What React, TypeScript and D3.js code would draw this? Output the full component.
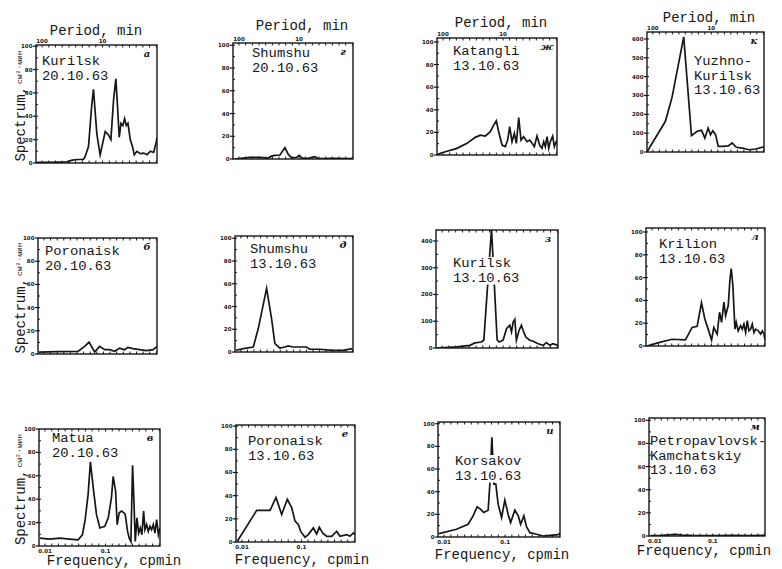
import React from "react";
import * as d3 from "d3";

type Pt = [number, number];

// ---------- axes ----------
const freqDomain: [number, number] = [0.001, 0.181];
const freqMinor = d3.range(0.01, 0.1805, 0.01);
const freqLabelValues = [0.01, 0.1];
const freqLabels = ["0.01", "0.1"];
const periodLabels = ["100", "10"];
const yTicks100 = [0, 20, 40, 60, 80, 100];
const yTicks400 = [0, 100, 200, 300, 400];
const yTicks600 = [0, 100, 200, 300, 400, 500, 600];

// ---------- data: [frequency cpmin, spectrum] ----------
const kurilsk201063: Pt[] = [
  [0.002, 0.5], [0.02, 0.5], [0.0467, 1], [0.055, 2.5], [0.063, 3], [0.0716, 3], [0.0741, 5.6], [0.0791, 14],
  [0.084, 50], [0.0865, 63], [0.0915, 25], [0.0964, 7], [0.104, 27], [0.1088, 24], [0.1124, 20], [0.1164, 54],
  [0.1198, 72], [0.1223, 48], [0.1248, 22], [0.1274, 34], [0.1302, 32], [0.1328, 38], [0.1353, 32], [0.1378, 34],
  [0.1412, 20], [0.1446, 14], [0.1472, 7], [0.1511, 10], [0.1562, 8], [0.1612, 8.5], [0.1661, 7], [0.1711, 10],
  [0.176, 9], [0.1799, 18], [0.181, 22],
];
const shumshu201063: Pt[] = [
  [0.0035, 0], [0.0161, 0.8], [0.0262, 1.5], [0.0411, 1.5], [0.0537, 0.8], [0.0588, 2.5], [0.0638, 3.2],
  [0.0714, 3.5], [0.0789, 10], [0.084, 4], [0.089, 1], [0.0966, 1.5], [0.1005, 3.2], [0.1041, 1], [0.1117, 0.3],
  [0.1241, 2], [0.1292, 0.3], [0.15, 0.5], [0.181, 0.3],
];
const katangli131063: Pt[] = [
  [0.001, 0], [0.006, 1.5], [0.0134, 2.9], [0.031, 5.9], [0.046, 10.3], [0.0584, 15.6], [0.066, 17.6],
  [0.0735, 16.8], [0.081, 20.6], [0.086, 26.5], [0.09, 30.3], [0.0935, 20.6], [0.0986, 8.8], [0.1034, 7.4],
  [0.107, 13.2], [0.11, 25], [0.1135, 11.8], [0.117, 19.1], [0.12, 10.3], [0.1236, 33.2], [0.127, 13.2],
  [0.131, 16.2], [0.136, 11.8], [0.14, 13.2], [0.1436, 10.3], [0.147, 7.4], [0.151, 16.8], [0.155, 8.8],
  [0.1585, 5.9], [0.161, 11.8], [0.1635, 7.4], [0.166, 16.2], [0.1686, 5.9], [0.171, 11.8], [0.1745, 16.8],
  [0.177, 7.4], [0.1799, 11.8], [0.181, 10.3],
];
const yuzhno131063: Pt[] = [
  [0.001, 0], [0.0293, 163], [0.0395, 290], [0.0575, 611], [0.0694, 87], [0.0782, 110], [0.0849, 115],
  [0.09, 74], [0.0951, 127], [0.0987, 92], [0.1023, 113], [0.1065, 92], [0.1106, 30], [0.1167, 30],
  [0.126, 32], [0.132, 48], [0.1383, 25], [0.1475, 21], [0.1578, 12], [0.1682, 16], [0.181, 27],
];
const poronaisk201063: Pt[] = [
  [0.0025, 1.7], [0.03, 2], [0.0615, 2.3], [0.0716, 6.6], [0.0782, 10.3], [0.0867, 1.7], [0.0943, 6.6],
  [0.1018, 3.7], [0.1094, 3.7], [0.117, 2.3], [0.1245, 5.1], [0.132, 3.7], [0.137, 5.7], [0.1446, 4.6],
  [0.1548, 3.7], [0.1648, 2.9], [0.175, 3.7], [0.181, 6.6],
];
const shumshu131063: Pt[] = [
  [0.0025, 1.5], [0.0137, 2.9], [0.0289, 4.4], [0.0365, 20.6], [0.0492, 56], [0.0568, 29.4], [0.0618, 7.4],
  [0.0694, 3.5], [0.0771, 4.4], [0.0821, 5.3], [0.0897, 4.4], [0.0998, 4.4], [0.11, 4.4], [0.115, 2.4],
  [0.13, 2.4], [0.1506, 1.5], [0.1657, 1.5], [0.18, 2.9],
];
const kurilsk131063: Pt[] = [
  [0.002, 0], [0.0314, 4], [0.051, 10], [0.0584, 19], [0.0681, 22.5], [0.0716, 30], [0.0829, 445],
  [0.0912, 30], [0.0942, 22.5], [0.1, 29], [0.105, 72], [0.1099, 85], [0.1124, 60], [0.1148, 97],
  [0.1173, 107], [0.1196, 29], [0.1236, 66], [0.127, 85], [0.1295, 66], [0.1335, 41], [0.1392, 29],
  [0.1443, 25], [0.1517, 16], [0.1589, 10], [0.164, 20], [0.1688, 10], [0.1736, 16], [0.181, 10],
];
const krilion131063: Pt[] = [
  [0.0025, 0], [0.0202, 3], [0.0404, 5.9], [0.0606, 5.3], [0.0708, 16.3], [0.0784, 17.2], [0.0849, 37.9],
  [0.09, 23.7], [0.095, 14.8], [0.1002, 5.3], [0.1036, 16.3], [0.1061, 13.3], [0.1087, 10.4], [0.1122, 29.6],
  [0.1153, 20.7], [0.1188, 38.5], [0.1214, 26.6], [0.1254, 35.5], [0.1279, 57.7], [0.1299, 68], [0.1324, 53.3],
  [0.1355, 14.8], [0.1375, 20.7], [0.1405, 13.3], [0.1441, 17.8], [0.1466, 14.8], [0.1491, 19.2], [0.1517, 11.8],
  [0.1542, 22.2], [0.1567, 13.3], [0.1593, 14.8], [0.1618, 19.2], [0.1643, 11.8], [0.1668, 14.8], [0.1709, 13.3],
  [0.1744, 10.4], [0.177, 13.3], [0.1795, 10.4], [0.181, 5.3],
];
const matua201063: Pt[] = [
  [0.0021, 6.7], [0.0168, 5.8], [0.0318, 6.7], [0.0467, 5.8], [0.0591, 5.2], [0.0656, 9.6], [0.0697, 22.6],
  [0.0741, 44.3], [0.0775, 71.9], [0.0816, 50.1], [0.0865, 27], [0.0915, 15.4], [0.0989, 16.8], [0.104, 24.1],
  [0.1088, 41.4], [0.1113, 59.4], [0.1149, 47.2], [0.1173, 18.3], [0.1203, 28.4], [0.1238, 29.9], [0.1274, 28.4],
  [0.1292, 27], [0.1328, 12.5], [0.1352, 6.7], [0.1377, 3.8], [0.1402, 69], [0.1422, 38.6], [0.1442, 3.8],
  [0.1467, 24.1], [0.1492, 11], [0.1517, 15.4], [0.1541, 9.6], [0.1566, 29.9], [0.1586, 13.9], [0.1611, 18.3],
  [0.1636, 12.5], [0.1661, 16.8], [0.1685, 13.9], [0.171, 18.3], [0.1735, 11], [0.176, 22.6], [0.1786, 9.6],
  [0.181, 15.4],
];
const poronaisk131063: Pt[] = [
  [0.003, 0.6], [0.0323, 27.3], [0.0525, 27.3], [0.0615, 38.4], [0.0701, 23.8], [0.0786, 36.9], [0.0852, 29.7],
  [0.0903, 18], [0.0953, 15.1], [0.0987, 9.3], [0.1054, 4.1], [0.1104, 6.4], [0.118, 12.2], [0.123, 7],
  [0.127, 12.8], [0.132, 7.8], [0.1382, 4.9], [0.1457, 4.9], [0.1533, 9.3], [0.1583, 4.9], [0.1684, 6.4],
  [0.1734, 4.9], [0.1785, 7.8], [0.181, 6.4],
];
const korsakov131063: Pt[] = [
  [0.0025, 3], [0.0282, 6.8], [0.0454, 11.2], [0.0528, 18.6], [0.0587, 26.6], [0.0636, 24.6], [0.0685, 21.6],
  [0.075, 23.7], [0.0775, 46.7], [0.0805, 88], [0.0835, 46.7], [0.0863, 46.7], [0.0897, 29], [0.0948, 17.2],
  [0.0996, 32.5], [0.1045, 20.1], [0.1081, 12.7], [0.1144, 23.7], [0.1194, 18.6], [0.1229, 11.2], [0.1277, 18.6],
  [0.1317, 8.9], [0.1366, 3.8], [0.1464, 2.4], [0.1563, 0.9], [0.1662, 1.5], [0.1761, 1.8], [0.181, 3],
];
const petropavlovsk131063: Pt[] = [
  [0.0035, 0.3], [0.0215, 0.5], [0.0318, 1], [0.0422, 1.5], [0.0525, 0.8], [0.0678, 0.5], [0.1038, 0.3],
  [0.1295, 0.6], [0.1553, 0.3], [0.181, 0.5],
];

// ---------- panel texts ----------
const names: string[][] = [
  ["Kurilsk", "20.10.63"], ["Shumshu", "20.10.63"], ["Katangli", "13.10.63"], ["Yuzhno-", "Kurilsk", "13.10.63"],
  ["Poronaisk", "20.10.63"], ["Shumshu", "13.10.63"], ["Kurilsk", "13.10.63"], ["Krilion", "13.10.63"],
  ["Matua", "20.10.63"], ["Poronaisk", "13.10.63"], ["Korsakov", "13.10.63"], ["Petropavlovsk-", "Kamchatskiy", "13.10.63"],
];
const letters = ["а", "г", "ж", "к", "б", "д", "з", "л", "в", "е", "и", "м"];
const series = [
  kurilsk201063, shumshu201063, katangli131063, yuzhno131063,
  poronaisk201063, shumshu131063, kurilsk131063, krilion131063,
  matua201063, poronaisk131063, korsakov131063, petropavlovsk131063,
];

// ---------- layout (positions only) ----------
const layout = [
  { box: [36, 45, 157, 163], yMax: 101, ticks: yTicks100, tx: 6, ty: 20, bg: false, cx: 96, cy: 35 },
  { box: [233, 43, 353, 159], yMax: 102, ticks: yTicks100, tx: 19, ty: 14, bg: false, cx: 302, cy: 30 },
  { box: [437, 38, 557, 155], yMax: 103.5, ticks: yTicks100, tx: 16, ty: 17, bg: false, cx: 501, cy: 27 },
  { box: [647, 32, 764, 152], yMax: 637, ticks: yTicks600, tx: 47, ty: 33, bg: false, cx: 709, cy: 22 },
  { box: [38, 238, 157, 354], yMax: 100, ticks: yTicks100, tx: 7, ty: 17, bg: false, cx: 0, cy: 0 },
  { box: [235, 236, 353, 352], yMax: 102, ticks: yTicks100, tx: 15, ty: 17, bg: false, cx: 0, cy: 0 },
  { box: [436, 230, 558, 348], yMax: 441, ticks: yTicks400, tx: 17, ty: 37, bg: true, cx: 0, cy: 0 },
  { box: [646, 228, 765, 346], yMax: 103.5, ticks: yTicks100, tx: 13, ty: 20, bg: false, cx: 0, cy: 0 },
  { box: [39, 429, 160, 546], yMax: 100, ticks: yTicks100, tx: 13, ty: 13, bg: false, cx: 114, cy: 565 },
  { box: [236, 425, 355, 542], yMax: 101, ticks: yTicks100, tx: 12, ty: 20, bg: false, cx: 302, cy: 564 },
  { box: [438, 422, 560, 537], yMax: 101.5, ticks: yTicks100, tx: 17, ty: 43, bg: true, cx: 502, cy: 559 },
  { box: [649, 418, 765, 536], yMax: 102, ticks: yTicks100, tx: 1, ty: 27, bg: false, cx: 704, cy: 555 },
];

const MONO = "'Liberation Mono', 'DejaVu Sans Mono', monospace";
const INK = "#161616";
const FS = 12.5;
const LH = 14.5;
const CW = 8.3;

function Panel({ i }: { i: number }) {
  const L = layout[i];
  const [x0, y0, x1, y1] = L.box;
  const data = series[i];
  const x = d3.scaleLinear().domain(freqDomain).range([x0, x1]);
  const y = d3.scaleLinear().domain([0, L.yMax]).range([y1, y0]);
  const line = d3.line<Pt>().x((d) => x(d[0])).y((d) => y(d[1]));
  const row = Math.floor(i / 4);
  const step = L.ticks[1] - L.ticks[0];
  const minorY = d3.range(step / 2, L.yMax, step / 2);
  const lines = names[i];
  const maxLen = d3.max(lines, (s) => s.length) as number;
  return (
    <g>
      <defs>
        <clipPath id={`clip${i}`}>
          <rect x={x0} y={y0} width={x1 - x0} height={y1 - y0} />
        </clipPath>
      </defs>
      <path d={line(data) as string} fill="none" stroke={INK} strokeWidth={1.7}
        strokeLinejoin="miter" strokeMiterlimit={6} clipPath={`url(#clip${i})`} />
      {L.bg && (
        <rect x={x0 + L.tx - 1} y={y0 + L.ty - 10} width={maxLen * CW + 2}
          height={(lines.length - 1) * LH + 13} fill="#fff" />
      )}
      <rect x={x0} y={y0} width={x1 - x0} height={y1 - y0} fill="none" stroke={INK} strokeWidth={1.4} />
      {freqMinor.map((f, k) => (
        <g key={k}>
          <line x1={x(f)} x2={x(f)} y1={y0} y2={y0 + 2.5} stroke={INK} strokeWidth={1} />
          <line x1={x(f)} x2={x(f)} y1={y1} y2={y1 - 2.5} stroke={INK} strokeWidth={1} />
        </g>
      ))}
      {minorY.map((v, k) => (
        <line key={k} x1={x0} x2={x0 + 2} y1={y(v)} y2={y(v)} stroke={INK} strokeWidth={1} />
      ))}
      {L.ticks.map((v, k) => (
        <g key={k}>
          <line x1={x0 - 3} x2={x0} y1={y(v)} y2={y(v)} stroke={INK} strokeWidth={1.2} />
          <text x={x0 - 3.5} y={y(v) + 2} fontSize={5.5} fontFamily="'DejaVu Sans'" fontWeight="bold"
            textAnchor="end" fill={INK}>{v}</text>
        </g>
      ))}
      {row === 0 && freqLabelValues.map((f, k) => (
        <text key={k} x={x(f)} y={y0 - 2} fontSize={5.5} fontFamily="'DejaVu Sans'" fontWeight="bold"
          textAnchor="middle" fill={INK}>{periodLabels[k]}</text>
      ))}
      {row === 2 && freqLabelValues.map((f, k) => (
        <text key={k} x={x(f)} y={y1 + 7} fontSize={5.5} fontFamily="'DejaVu Sans'" fontWeight="bold"
          textAnchor="middle" fill={INK}>{freqLabels[k]}</text>
      ))}
      {lines.map((s, k) => (
        <text key={k} x={x0 + L.tx} y={y0 + L.ty + k * LH} fontSize={FS} fontFamily={MONO} fill={INK}
          textLength={s.length * CW} lengthAdjust="spacingAndGlyphs">{s}</text>
      ))}
      <text x={x1 - 10} y={y0 + 12} fontSize={10} fontFamily="'DejaVu Serif'" fontStyle="italic"
        fontWeight="bold" textAnchor="middle" fill={INK}>{letters[i]}</text>
      {row === 0 && (
        <text x={L.cx} y={L.cy} fontSize={14} fontFamily={MONO} textAnchor="middle" fill={INK}>
          Period, min
        </text>
      )}
      {row === 2 && (
        <text x={L.cx} y={L.cy} fontSize={14} fontFamily={MONO} textAnchor="middle" fill={INK}>
          Frequency, cpmin
        </text>
      )}
      {i % 4 === 0 && (
        <text transform={`translate(25,${(y0 + y1) / 2 + 2}) rotate(-90)`} textAnchor="middle"
          fontFamily={MONO} fill={INK}>
          <tspan fontSize={14}>Spectrum,</tspan>
          <tspan fontSize={8} dx={2} dy={-3}>см²·мин</tspan>
        </text>
      )}
    </g>
  );
}

export default function App() {
  return (
    <svg width={782} height={569} viewBox="0 0 782 569"
      style={{ position: "absolute", left: 0, top: 0, background: "#fff", display: "block" }}>
      <rect x={0} y={0} width={782} height={569} fill="#fff" />
      {layout.map((_, i) => <Panel key={i} i={i} />)}
    </svg>
  );
}
